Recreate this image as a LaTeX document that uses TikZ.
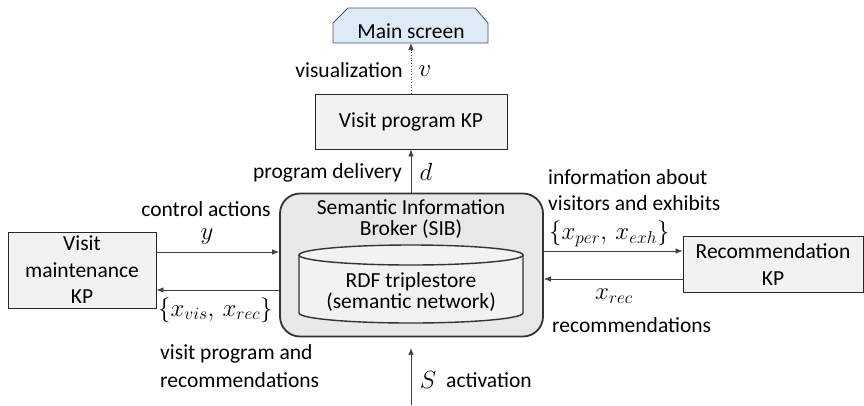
\documentclass[tikz,border=0pt]{standalone}
\usepackage{fontspec}
\setmainfont{Carlito}
\usetikzlibrary{arrows.meta}
\definecolor{boxfill}{HTML}{F2F2F2}
\definecolor{sibfill}{HTML}{E8E8E8}
\definecolor{screenfill}{HTML}{DDEBF7}
\definecolor{screenline}{HTML}{44546A}
\definecolor{lineg}{HTML}{404040}
\tikzset{
  kpbox/.style={draw=black!85, fill=boxfill, line width=0.9pt, align=center,
    font=\fontsize{21.5}{26.5}\selectfont, inner sep=0pt},
  flow/.style={draw=lineg, line width=0.7pt, -{Latex[length=7pt,width=5.5pt]}},
  lbl/.style={font=\fontsize{21.5}{26.5}\selectfont, inner sep=0pt},
  mlbl/.style={font=\fontsize{25}{26}\selectfont, inner sep=0pt},
}
\begin{document}
\begin{tikzpicture}[x=1pt,y=-1pt]
\useasboundingbox (0,0) rectangle (864,405);

% main screen (chamfered top corners)
\draw[draw=screenline, fill=screenfill, line width=0.8pt]
  (333,43) -- (333,23) -- (348,8) -- (475,8) -- (488,23) -- (488,43) -- cycle;
\node[lbl] (screen) at (411,31) {Main screen};
\coordinate (screenbot) at (411,43);

% knowledge processors
\node[kpbox, minimum width=192pt, minimum height=55pt] (vp) at (411,121.5) {Visit program KP};
\node[kpbox, minimum width=148pt, minimum height=76pt] (vm) at (82,270) {Visit\\maintenance\\KP};
\node[kpbox, minimum width=180pt, minimum height=56pt] (rec) at (773,264.5) {Recommendation\\KP};

% semantic information broker
\node[draw=black!80, fill=sibfill, line width=1.8pt, rounded corners=20pt,
  minimum width=263pt, minimum height=143pt, inner sep=0pt] (sib) at (411.5,265) {};
\node[lbl, align=center, font=\fontsize{21.5}{21}\selectfont] (sibtext) at (411,219.5)
  {Semantic Information\\Broker (SIB)};

% RDF triplestore cylinder
\draw[draw=black!80, fill=boxfill, line width=1.4pt]
  (299,255) -- (299,313) arc[start angle=180, end angle=0, x radius=112, y radius=10]
  -- (523,255);
\draw[draw=black!80, fill=boxfill, line width=1.4pt]
  (411,255) ellipse[x radius=112, y radius=10];
\node[lbl, align=center, font=\fontsize{21.5}{21.5}\selectfont] (rdf) at (411,292)
  {RDF triplestore\\(semantic network)};

% flows between nodes
\draw[flow, dotted] (vp.north) -- (screenbot);
\draw[flow] (sib.north -| vp.south) -- (vp.south);

\draw[flow] (vm.east |- 0,252) -- (sib.west |- 0,252);
\draw[flow] (sib.west |- 0,290) -- (vm.east |- 0,290);

\draw[flow] (sib.east |- 0,251) -- (rec.west |- 0,251);
\draw[flow] (rec.west |- 0,279) -- (sib.east |- 0,279);

\coordinate (actsrc) at (411,405);
\coordinate (acttip) at (411,348);
\draw[flow] (actsrc) -- (acttip);

% labels
\node[lbl, anchor=east] (visl) at (403,70) {visualization};
\node[mlbl] (vsym) at (425,71) {$v$};
\node[lbl, anchor=east] (pdl) at (402,173) {program delivery};
\node[mlbl] (dsym) at (426,172) {$d$};

\node[lbl] (cal) at (206,209) {control actions};
\node[mlbl] (ysym) at (207,237) {$y$};
\node[mlbl, anchor=west] (xvr) at (158,310) {$\{x_{vis},\,x_{rec}\}$};
\node[lbl, anchor=west] (vprl1) at (160,354) {visit program and};
\node[lbl, anchor=west] (vprl2) at (160,380) {recommendations};

\node[lbl, anchor=west] (infl1) at (548,177) {information about};
\node[lbl, anchor=west] (infl2) at (548,203) {visitors and exhibits};
\node[mlbl, anchor=west] (xpe) at (549,234) {$\{x_{per},\,x_{exh}\}$};
\node[mlbl] (xrec) at (614,296) {$x_{rec}$};
\node[lbl, anchor=west] (recl) at (552,325) {recommendations};

\node[mlbl] (ssym) at (428,380) {$S$};
\node[lbl, anchor=west] (actl) at (446,380) {activation};
\end{tikzpicture}
\end{document}
